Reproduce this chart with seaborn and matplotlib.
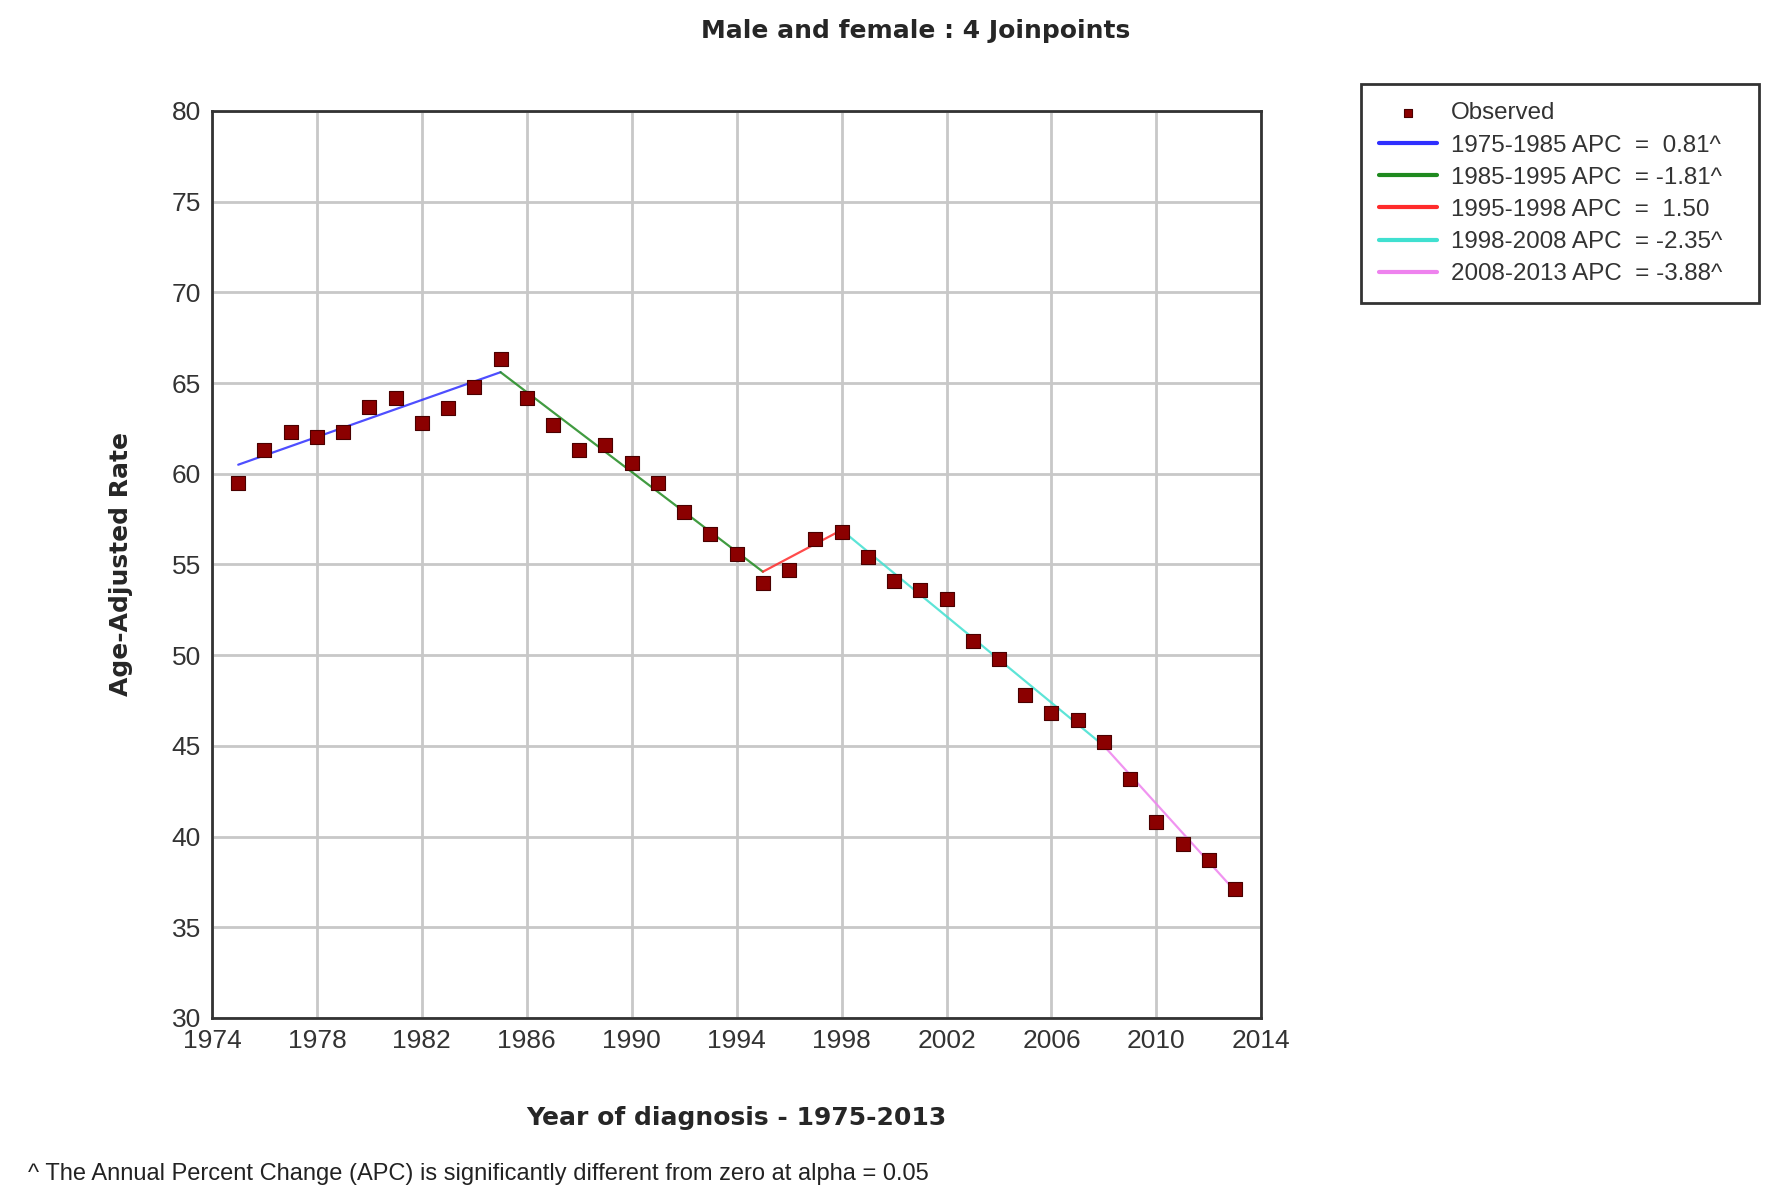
import numpy as np
import pandas as pd
import matplotlib
matplotlib.use("Agg")
import matplotlib.pyplot as plt
import seaborn as sns

# observed age-adjusted rates
years = list(range(1975, 2014))
observed = [59.5, 61.3, 62.3, 62.0, 62.3, 63.7, 64.2, 62.8, 63.6, 64.8,
            66.3, 64.2, 62.7, 61.3, 61.6, 60.6, 59.5, 57.9, 56.7, 55.6,
            54.0, 54.7, 56.4, 56.8, 55.4, 54.1, 53.6, 53.1, 50.8, 49.8,
            47.8, 46.8, 46.4, 45.2, 43.2, 40.8, 39.6, 38.7, 37.1]

# joinpoint model: segment end points
joinpoint_years = [1975, 1985, 1995, 1998, 2008, 2013]
fitted_values = [60.5, 65.6, 54.6, 56.9, 45.0, 37.0]
segment_labels = ["1975-1985 APC  =  0.81^", "1985-1995 APC  = -1.81^",
                  "1995-1998 APC  =  1.50", "1998-2008 APC  = -2.35^",
                  "2008-2013 APC  = -3.88^"]
segment_colors = ["#2f2fff", "#1f8a1f", "#ff2b2b", "#40e0d0", "#ee82ee"]

sns.set_style("whitegrid")
plt.rcParams['font.family'] = ['Liberation Sans', 'DejaVu Sans']

fig = plt.figure(figsize=(17.74, 11.87), dpi=100)
ax = fig.add_axes([0.1195, 0.1424, 0.5915, 0.7641])

df = pd.DataFrame({'Year': years, 'Rate': observed})

for i in range(len(segment_labels)):
    seg = pd.DataFrame({'Year': joinpoint_years[i:i + 2],
                        'Rate': fitted_values[i:i + 2]})
    sns.lineplot(data=seg, x='Year', y='Rate', ax=ax, color=segment_colors[i],
                 linewidth=1.6, alpha=0.85, label=segment_labels[i], zorder=3)

sns.scatterplot(data=df, x='Year', y='Rate', ax=ax, marker='s', s=95,
                color='#8b0000', edgecolor='#4a0000', linewidth=0.8,
                label='Observed', zorder=4)

ax.set_xlim(1974, 2014)
ax.set_ylim(30, 80)
ax.set_xticks(np.arange(1974, 2015, 4))
ax.set_yticks(np.arange(30, 81, 5))
ax.tick_params(labelsize=19, colors='#333333', length=0, pad=8)
ax.grid(True, color='#c8c8c8', linewidth=2)
for sp in ax.spines.values():
    sp.set_color('#333333')
    sp.set_linewidth(2)

ax.set_xlabel('Year of diagnosis - 1975-2013', fontsize=18, fontweight='bold',
              family='DejaVu Sans', labelpad=38)
ax.set_ylabel('Age-Adjusted Rate', fontsize=18, fontweight='bold',
              family='DejaVu Sans', labelpad=28)

fig.text(0.516, 0.974, 'Male and female : 4 Joinpoints', fontsize=18,
         fontweight='bold', family='DejaVu Sans', ha='center', va='center')
fig.text(0.016, 0.011, '^ The Annual Percent Change (APC) is significantly different from zero at alpha = 0.05',
         fontsize=17, ha='left', va='center', color='#222222')

# legend: Observed first, then the segments
handles, labels = ax.get_legend_handles_labels()
order = [len(labels) - 1] + list(range(len(labels) - 1))
leg = ax.legend([handles[k] for k in order], [labels[k] for k in order],
                loc='upper left', bbox_to_anchor=(0.767, 0.747, 0.2245, 0.182),
                bbox_transform=fig.transFigure, mode='expand',
                fontsize=17.4, frameon=True,
                fancybox=False, edgecolor='#333333', framealpha=1,
                handlelength=2.4, labelspacing=0.42, borderpad=0.75,
                handletextpad=0.6, borderaxespad=0)
leg.get_frame().set_linewidth(2)
for h in leg.legend_handles:
    if hasattr(h, 'get_offsets'):
        h.set_sizes([40])
    elif hasattr(h, 'set_linewidth'):
        h.set_linewidth(3)
        h.set_alpha(1)
for t in leg.get_texts():
    t.set_color('#333333')

fig.savefig('out.png', dpi=100)
